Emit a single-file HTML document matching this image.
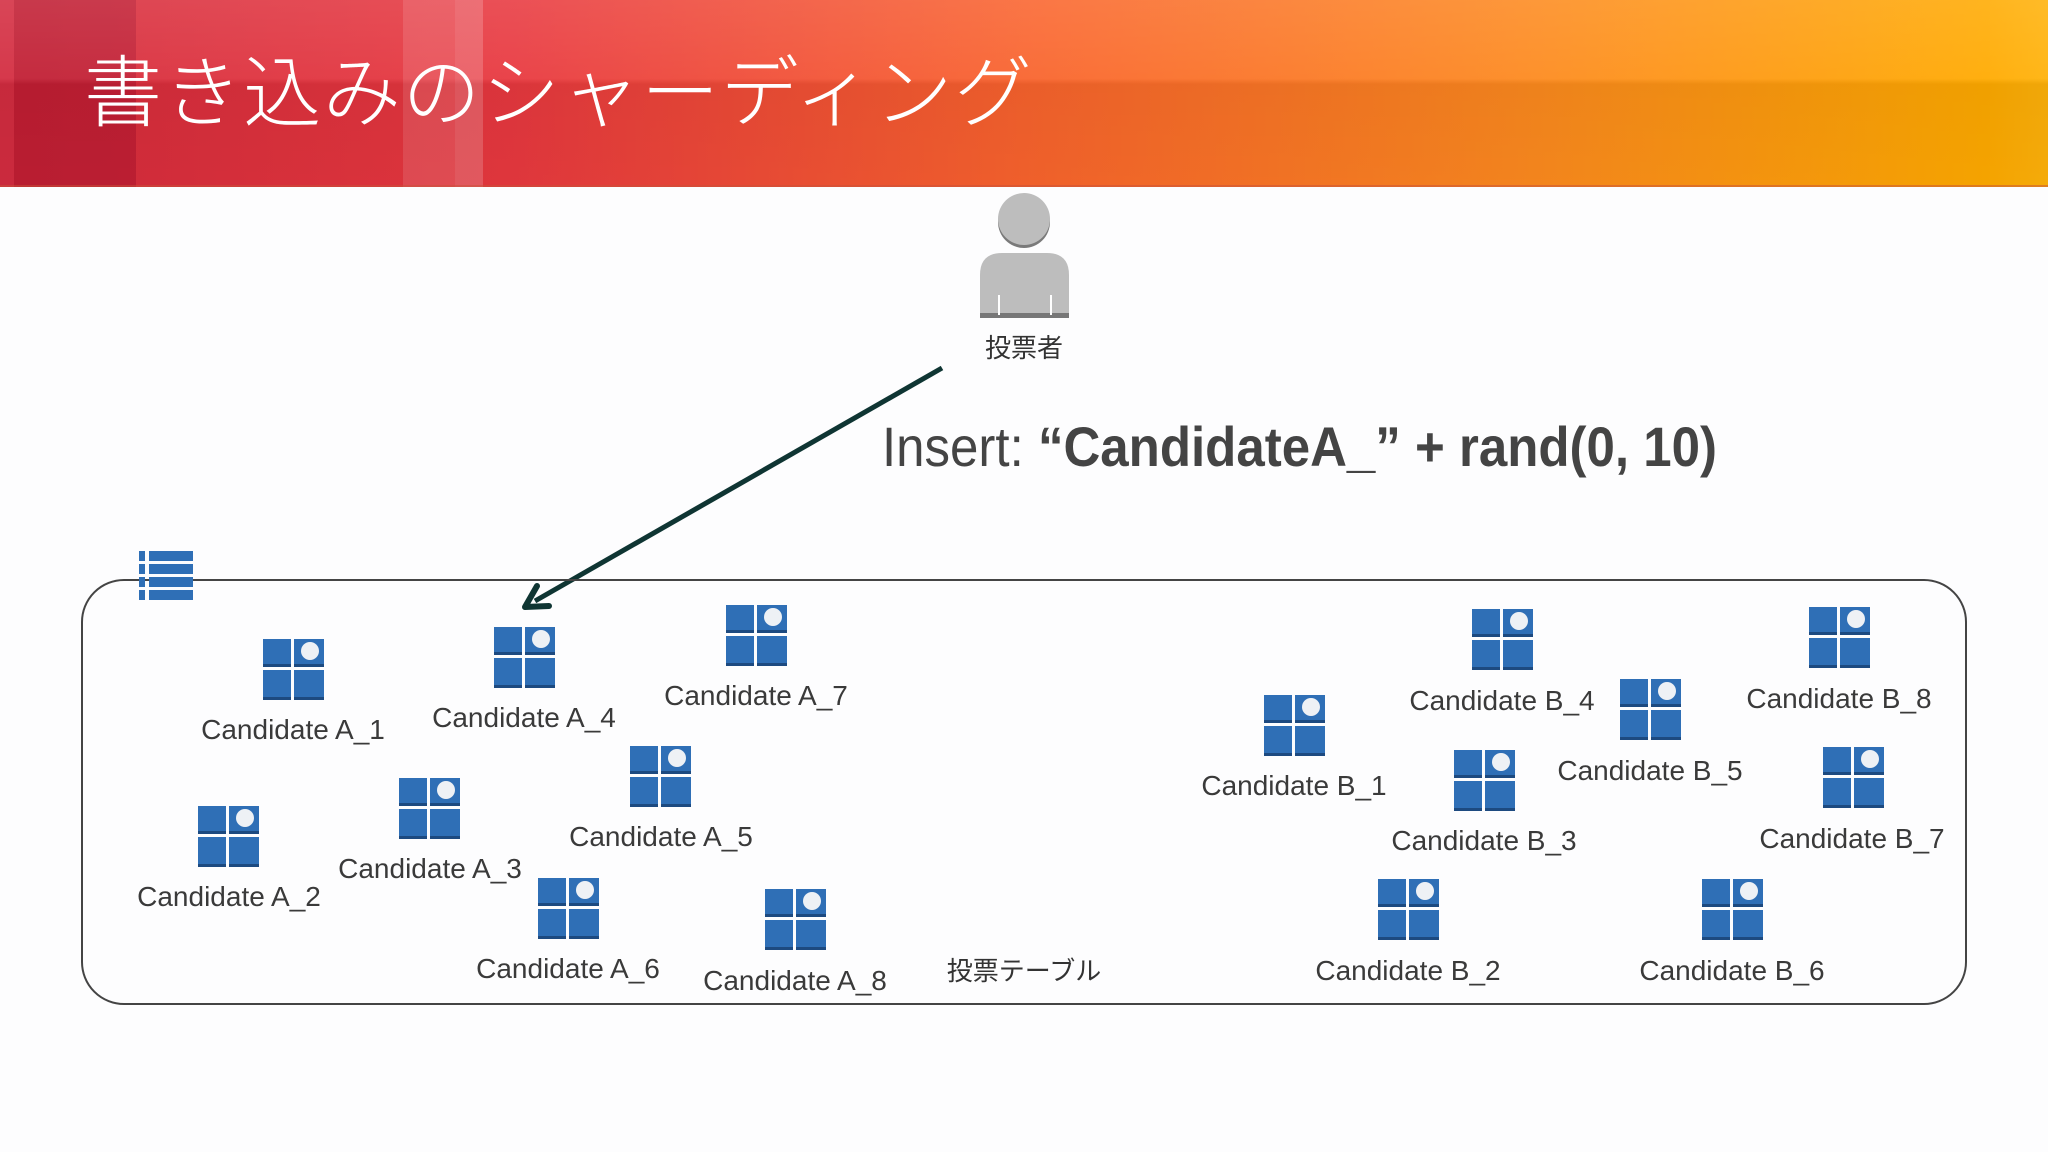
<!DOCTYPE html>
<html><head><meta charset="utf-8"><style>
html,body{margin:0;padding:0;width:2048px;height:1152px;overflow:hidden;background:#fdfdfe}
svg{display:block}
</style></head><body>
<svg width="2048" height="1152" viewBox="0 0 2048 1152" xmlns="http://www.w3.org/2000/svg">
<defs>
<linearGradient id="hg" x1="0" y1="0" x2="1" y2="0">
<stop offset="0" stop-color="#d42a3b"/>
<stop offset="0.25" stop-color="#e8383f"/>
<stop offset="0.5" stop-color="#f9632d"/>
<stop offset="0.75" stop-color="#fd8a1e"/>
<stop offset="0.97" stop-color="#ffaa00"/>
<stop offset="1" stop-color="#ffb20a"/>
</linearGradient>
<linearGradient id="hv" x1="0" y1="0" x2="0" y2="1">
<stop offset="0" stop-color="#fff" stop-opacity="0.12"/>
<stop offset="0.42" stop-color="#fff" stop-opacity="0.06"/>
<stop offset="0.45" stop-color="#000" stop-opacity="0.06"/>
<stop offset="1" stop-color="#000" stop-opacity="0.04"/>
</linearGradient>
<g id="ic">
<rect x="0" y="0" width="28" height="28" fill="#2f6fb6"/>
<rect x="31" y="0" width="30" height="28" fill="#2f6fb6"/>
<rect x="0" y="31" width="28" height="30" fill="#2f6fb6"/>
<rect x="31" y="31" width="30" height="30" fill="#2f6fb6"/>
<rect x="0" y="25" width="28" height="3" fill="#1d4a80"/>
<rect x="31" y="25" width="30" height="3" fill="#1d4a80"/>
<rect x="0" y="58" width="28" height="3" fill="#1d4a80"/>
<rect x="31" y="58" width="30" height="3" fill="#1d4a80"/>
<circle cx="47" cy="12" r="9" fill="#eef1f5"/>
</g>
</defs>
<rect x="0" y="0" width="2048" height="187" fill="url(#hg)"/>
<rect x="0" y="0" width="136" height="187" fill="#a8102a" opacity="0.45"/>
<rect x="0" y="0" width="14" height="187" fill="#ff5060" opacity="0.3"/>
<rect x="403" y="0" width="80" height="187" fill="#ffffff" opacity="0.12"/>
<rect x="455" y="0" width="28" height="187" fill="#ffffff" opacity="0.08"/>
<rect x="0" y="0" width="2048" height="187" fill="url(#hv)"/>
<rect x="0" y="185" width="2048" height="2" fill="#c8513a" opacity="0.5"/>
<text x="84" y="120" font-family="'Noto Sans CJK JP','Liberation Sans',sans-serif" font-weight="300" font-size="78" fill="#fff" textLength="948">書き込みのシャーディング</text>

<!-- person -->
<circle cx="1024" cy="222" r="26" fill="#7a7a7a"/>
<circle cx="1024" cy="219" r="26" fill="#bdbdbd"/>
<path d="M980 318 V275 Q980 253 1002 253 H1047 Q1069 253 1069 275 V318 Z" fill="#bdbdbd"/>
<rect x="980" y="313" width="89" height="5" fill="#777"/>
<rect x="998" y="295" width="2" height="20" fill="#fff"/>
<rect x="1050" y="295" width="2" height="20" fill="#fff"/>
<text x="1024" y="357" text-anchor="middle" font-family="'Liberation Sans','Noto Sans CJK JP',sans-serif" font-size="26" fill="#333">投票者</text>

<!-- arrow -->
<line x1="942" y1="368" x2="535" y2="601" stroke="#0f3533" stroke-width="5"/>
<path d="M525 607 L537 586 M525 607 L549 606" stroke="#0f3533" stroke-width="6" fill="none" stroke-linecap="round"/>

<text x="882" y="466" font-family="'Liberation Sans',sans-serif" font-size="56" fill="#444" textLength="835" lengthAdjust="spacingAndGlyphs">Insert: <tspan font-weight="bold">“CandidateA_” + rand(0, 10)</tspan></text>

<!-- container -->
<rect x="82" y="580" width="1884" height="424" rx="42" fill="none" stroke="#444" stroke-width="2"/>

<!-- table icon -->
<g fill="#2f6fb6">
<rect x="139" y="551" width="6" height="10"/><rect x="149" y="551" width="44" height="10"/>
<rect x="139" y="564" width="6" height="10"/><rect x="149" y="564" width="44" height="10"/>
<rect x="139" y="577" width="6" height="10"/><rect x="149" y="577" width="44" height="10"/>
<rect x="139" y="590" width="6" height="10"/><rect x="149" y="590" width="44" height="10"/>
</g>

<g font-family="'Liberation Sans',sans-serif" font-size="28" fill="#3a3a3a" text-anchor="middle">
<use href="#ic" x="263" y="639"/><text x="293" y="739">Candidate A_1</text>
<use href="#ic" x="494" y="627"/><text x="524" y="727">Candidate A_4</text>
<use href="#ic" x="726" y="605"/><text x="756" y="705">Candidate A_7</text>
<use href="#ic" x="630" y="746"/><text x="661" y="846">Candidate A_5</text>
<use href="#ic" x="198" y="806"/><text x="229" y="906">Candidate A_2</text>
<use href="#ic" x="399" y="778"/><text x="430" y="878">Candidate A_3</text>
<use href="#ic" x="538" y="878"/><text x="568" y="978">Candidate A_6</text>
<use href="#ic" x="765" y="889"/><text x="795" y="990">Candidate A_8</text>
<use href="#ic" x="1264" y="695"/><text x="1294" y="795">Candidate B_1</text>
<use href="#ic" x="1472" y="609"/><text x="1502" y="710">Candidate B_4</text>
<use href="#ic" x="1809" y="607"/><text x="1839" y="708">Candidate B_8</text>
<use href="#ic" x="1620" y="679"/><text x="1650" y="780">Candidate B_5</text>
<use href="#ic" x="1454" y="750"/><text x="1484" y="850">Candidate B_3</text>
<use href="#ic" x="1823" y="747"/><text x="1852" y="848">Candidate B_7</text>
<use href="#ic" x="1378" y="879"/><text x="1408" y="980">Candidate B_2</text>
<use href="#ic" x="1702" y="879"/><text x="1732" y="980">Candidate B_6</text>
</g>
<text x="1024" y="980" text-anchor="middle" font-family="'Liberation Sans','Noto Sans CJK JP',sans-serif" font-size="26" fill="#333">投票テーブル</text>
</svg>
</body></html>
